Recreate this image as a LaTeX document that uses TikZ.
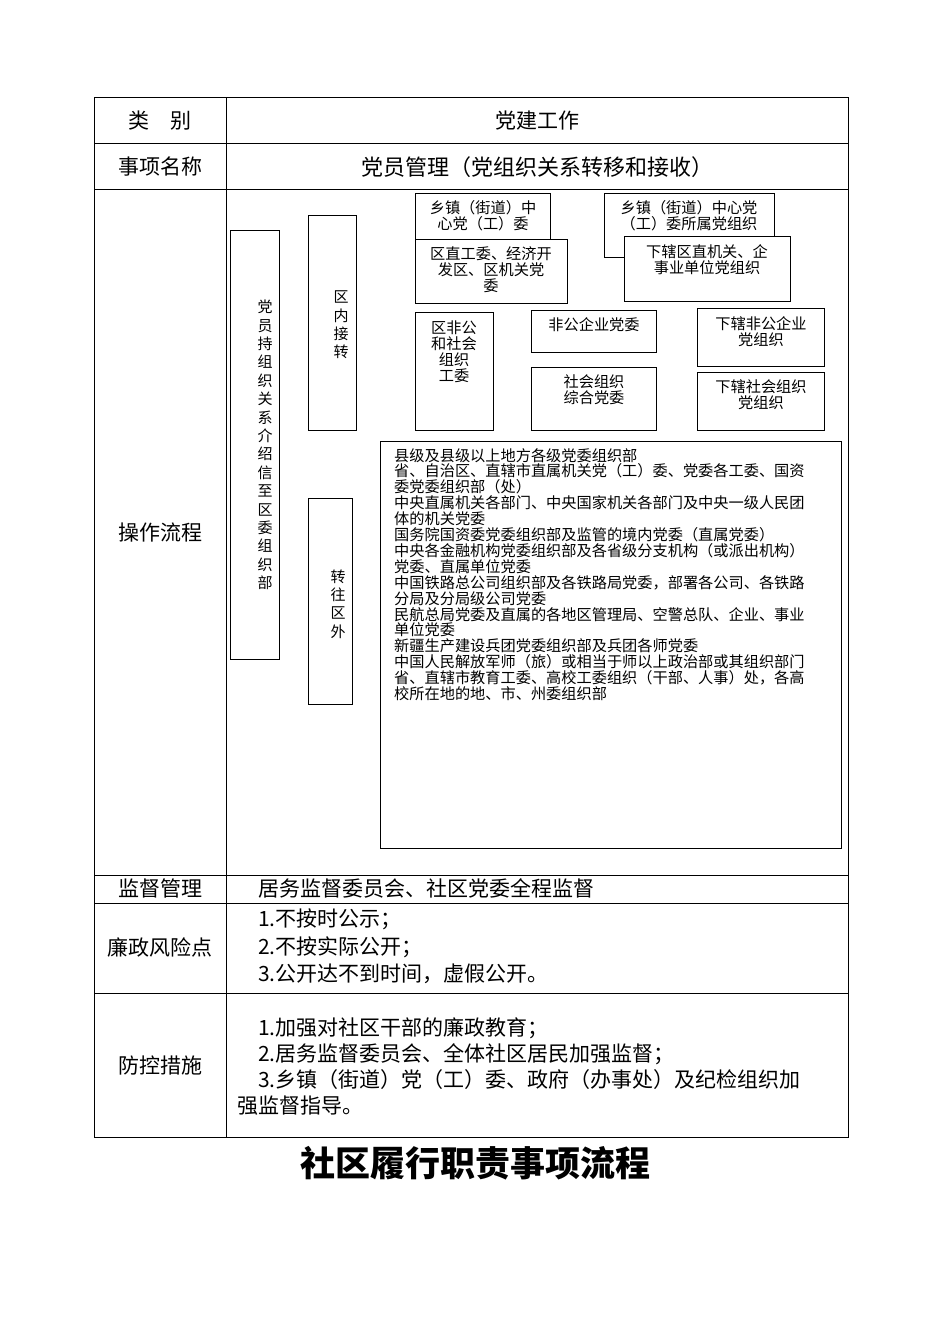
\documentclass[tikz,border=0pt]{standalone}
\usepackage{fontspec}
\setmainfont{Noto Sans CJK SC}
\begin{document}
\begin{tikzpicture}[x=1pt,y=-1pt,
  bx/.style={draw,thick,line width=1pt},
  small/.style={font=\fontsize{15.2}{15.9}\selectfont,align=center,inner sep=0pt},
  big/.style={font=\fontsize{21}{26}\selectfont,inner sep=0pt},
  vt/.style={font=\fontsize{15}{18.4}\selectfont,align=center,inner sep=0pt,text width=15pt}]
\useasboundingbox (0,0) rectangle (950,1344);
% table
\draw[line width=0.8pt] (94,97) rectangle (848,1137);
\foreach \y in {143,189,875,903,993} \draw[line width=0.8pt] (94,\y) -- (848,\y);
\draw[line width=0.8pt] (226,97) -- (226,1137);
\node[big] (c1) at (160,121) {类\quad 别};
\node[big] (c2) at (537,121) {党建工作};
\node[big] (c3) at (160,167) {事项名称};
\node[big,font=\fontsize{22}{26}\selectfont] (c4) at (537,167) {党员管理（党组织关系转移和接收）};
\node[big] (c5) at (160,533) {操作流程};
\node[big] (c6) at (160,888) {监督管理};
\node[big,anchor=west] (c7) at (258,888) {居务监督委员会、社区党委全程监督};
\node[big] (c8) at (160,947) {廉政风险点};
\node[big,anchor=west] (r1) at (258,919) {1.不按时公示；};
\node[big,anchor=west] (r2) at (258,947) {2.不按实际公开；};
\node[big,anchor=west] (r3) at (258,974) {3.公开达不到时间，虚假公开。};
\node[big] (c9) at (160,1066) {防控措施};
\node[big,anchor=west] (p1) at (258,1028) {1.加强对社区干部的廉政教育；};
\node[big,anchor=west] (p2) at (258,1054) {2.居务监督委员会、全体社区居民加强监督；};
\node[big,anchor=west] (p3) at (258,1080) {3.乡镇（街道）党（工）委、政府（办事处）及纪检组织加};
\node[big,anchor=west] (p4) at (237,1106) {强监督指导。};
\node[font=\fontsize{35}{38}\selectfont\bfseries,inner sep=0pt] (title) at (475,1163) {社区履行职责事项流程};
% vertical boxes
\draw[bx,fill=white] (230,230) rectangle (279,659);
\node[vt] (v1) at (265,445) {党\\员\\持\\组\\织\\关\\系\\介\\绍\\信\\至\\区\\委\\组\\织\\部};
\draw[bx] (308,215) rectangle (356,430);
\node[vt] (v2) at (341,325) {区\\内\\接\\转};
\draw[bx] (308,498) rectangle (352,704);
\node[vt] (v3) at (338,604) {转\\往\\区\\外};
% boxes
\draw[bx] (415,193) rectangle (550,240);
\node[small] (b1) at (483,216) {乡镇（街道）中\\心党（工）委};
\draw[bx,fill=white] (415,239) rectangle (567,303);
\node[small] (b2) at (491,270) {区直工委、经济开\\发区、区机关党\\委};
\draw[bx] (604,193) rectangle (774,257);
\node[small] (b3) at (689,216) {乡镇（街道）中心党\\（工）委所属党组织};
\draw[bx,fill=white] (624,236) rectangle (790,301);
\node[small] (b4) at (707,260) {下辖区直机关、企\\事业单位党组织};
\draw[bx] (415,312) rectangle (493,430);
\node[small] (b5) at (454,352) {区非公\\和社会\\组织\\工委};
\draw[bx] (531,310) rectangle (656,352);
\node[small] (b6) at (594,325) {非公企业党委};
\draw[bx] (531,367) rectangle (656,430);
\node[small] (b7) at (594,390) {社会组织\\综合党委};
\draw[bx] (697,308) rectangle (824,366);
\node[small] (b8) at (761,332) {下辖非公企业\\党组织};
\draw[bx] (697,372) rectangle (824,430);
\node[small] (b9) at (761,395) {下辖社会组织\\党组织};
\draw[bx] (380,441) rectangle (841,848);
\node[small,align=left,anchor=north west] (big) at (394,448) {县级及县级以上地方各级党委组织部\\
省、自治区、直辖市直属机关党（工）委、党委各工委、国资\\
委党委组织部（处）\\
中央直属机关各部门、中央国家机关各部门及中央一级人民团\\
体的机关党委\\
国务院国资委党委组织部及监管的境内党委（直属党委）\\
中央各金融机构党委组织部及各省级分支机构（或派出机构）\\
党委、直属单位党委\\
中国铁路总公司组织部及各铁路局党委，部署各公司、各铁路\\
分局及分局级公司党委\\
民航总局党委及直属的各地区管理局、空警总队、企业、事业\\
单位党委\\
新疆生产建设兵团党委组织部及兵团各师党委\\
中国人民解放军师（旅）或相当于师以上政治部或其组织部门\\
省、直辖市教育工委、高校工委组织（干部、人事）处，各高\\
校所在地的地、市、州委组织部};
\end{tikzpicture}
\end{document}
